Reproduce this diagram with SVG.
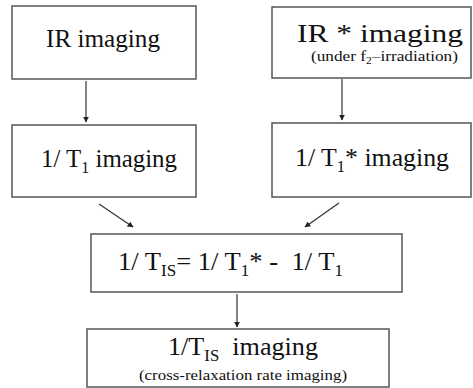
<svg xmlns="http://www.w3.org/2000/svg" width="473" height="388" viewBox="0 0 473 388">
<style>
.box{fill:#fff;stroke:#555;stroke-width:1.5}
.t{font-family:"Liberation Serif","Times New Roman",serif;fill:#111;font-size:25px}
.s{font-family:"Liberation Serif","Times New Roman",serif;fill:#111;font-size:15px}
.c{stroke:#333;stroke-width:1.2;fill:none;marker-end:url(#ah)}
</style>
<defs>
<marker id="ah" viewBox="0 0 10 10" refX="9" refY="5" markerWidth="6" markerHeight="6" markerUnits="userSpaceOnUse" orient="auto">
<path d="M0,0 L10,5 L0,10 z" fill="#222"/>
</marker>
</defs>
<rect width="473" height="388" fill="#fff"/>
<g id="connectors">
<line class="c" x1="86" y1="81" x2="86" y2="122"/>
<line class="c" x1="342" y1="79" x2="342" y2="120"/>
<line class="c" x1="99" y1="204" x2="133" y2="227"/>
<line class="c" x1="339" y1="203" x2="305" y2="227"/>
<line class="c" x1="237" y1="294" x2="237" y2="327"/>
</g>
<g id="ir">
<rect class="box" x="12" y="6" width="184" height="73"/>
<text class="t" x="46" y="47" textLength="114" lengthAdjust="spacingAndGlyphs">IR imaging</text>
</g>
<g id="irstar">
<rect class="box" x="272" y="7" width="199" height="71"/>
<text class="t" x="297" y="42" textLength="166" lengthAdjust="spacingAndGlyphs">IR * imaging</text>
<text class="s" x="311" y="61" textLength="147" lengthAdjust="spacingAndGlyphs">(under f<tspan font-size="10" dy="3">2</tspan><tspan dy="-3">–irradiation)</tspan></text>
</g>
<g id="t1">
<rect class="box" x="12" y="125" width="184" height="72"/>
<text class="t" x="41" y="167" textLength="136" lengthAdjust="spacingAndGlyphs">1/ T<tspan font-size="16" dy="6">1</tspan><tspan dy="-6"> imaging</tspan></text>
</g>
<g id="t1star">
<rect class="box" x="272" y="123" width="199" height="74"/>
<text class="t" x="295" y="166" textLength="154" lengthAdjust="spacingAndGlyphs">1/ T<tspan font-size="16" dy="6">1</tspan><tspan dy="-6">* imaging</tspan></text>
</g>
<g id="tis">
<rect class="box" x="91" y="234" width="311" height="58"/>
<text class="t" x="118" y="270" textLength="225" lengthAdjust="spacingAndGlyphs" xml:space="preserve">1/ T<tspan font-size="16" dy="6">IS</tspan><tspan dy="-6">= 1/ T</tspan><tspan font-size="16" dy="6">1</tspan><tspan dy="-6">* -  1/ T</tspan><tspan font-size="16" dy="6">1</tspan></text>
</g>
<g id="tisimg">
<rect class="box" x="87" y="329" width="302" height="58"/>
<text class="t" x="168" y="355" textLength="150" lengthAdjust="spacingAndGlyphs" xml:space="preserve">1/T<tspan font-size="16" dy="6">IS</tspan><tspan dy="-6">  imaging</tspan></text>
<text class="s" x="139" y="380" textLength="208" lengthAdjust="spacingAndGlyphs">(cross-relaxation rate imaging)</text>
</g>
</svg>
